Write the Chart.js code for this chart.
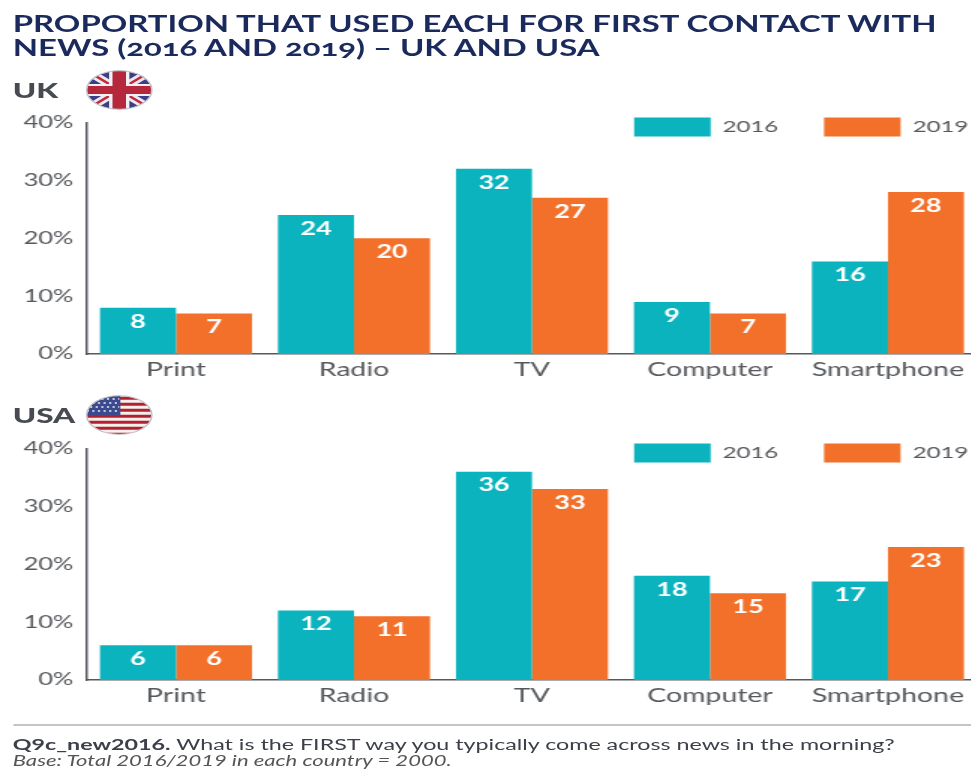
<!DOCTYPE html>
<html>
<head>
<meta charset="utf-8">
<title>First contact with news</title>
<script src="https://cdn.jsdelivr.net/npm/chart.js@4/dist/chart.umd.min.js"></script>
<style>
  html, body { margin: 0; padding: 0; background: #fff; overflow: hidden; width: 971px; height: 769px; }
  /* the reference is a picture stretched sideways, so the whole page is drawn narrow and scaled */
  #stage { position: absolute; left: 0; top: 0; width: 660px; height: 769px; transform: scaleX(1.5); transform-origin: 0 0; font-family: Lato, sans-serif; }
  #stage > * { position: absolute; }
  h1 { margin: 0; left: 8.5px; top: 11.5px; width: 640px; font-size: 21.9px; line-height: 24px; font-weight: 700; color: #1b2a5c; font-variant-numeric: oldstyle-nums; white-space: nowrap; }
  .country { left: 8.5px; font-size: 21px; line-height: 24px; font-weight: 900; color: #474a50; }
  #hr { left: 8.5px; top: 724px; width: 660px; height: 2px; background: #c4c6c6; }
  #note { left: 8.5px; top: 736px; font-size: 15.5px; line-height: 16px; color: #3c4048; white-space: nowrap; }
  #note i { color: #555; font-size: 14.7px; }
  canvas { position: absolute; left: 0; clip-path: inset(0 12px 0 0); }
</style>
</head>
<body>
<div id="stage">
  <h1>PROPORTION THAT USED EACH FOR FIRST CONTACT WITH<br>NEWS (2016 AND 2019) – UK AND USA</h1>

  <div class="country" style="top:78px">UK</div>
  <svg style="left:56.7px;top:70px" width="45" height="40" viewBox="0 0 60 60" preserveAspectRatio="none">
    <defs><clipPath id="ukClip"><circle cx="30" cy="30" r="29"/></clipPath></defs>
    <g clip-path="url(#ukClip)">
      <rect width="60" height="60" fill="#3b3f87"/>
      <path d="M0 0L60 60M60 0L0 60" stroke="#ece9ee" stroke-width="10"/>
      <path d="M0 0L60 60M60 0L0 60" stroke="#c2283c" stroke-width="3"/>
      <path d="M30 0V60M0 30H60" stroke="#f2f0f2" stroke-width="18"/>
      <path d="M30 0V60M0 30H60" stroke="#b5273a" stroke-width="12"/>
    </g>
    <circle cx="30" cy="30" r="29" fill="none" stroke="#c4c4ca" stroke-width="1.5"/>
  </svg>
  <canvas id="ukChart"></canvas>

  <div class="country" style="top:403px">USA</div>
  <svg style="left:56.7px;top:395px" width="45" height="40" viewBox="0 0 60 60" preserveAspectRatio="none">
    <defs><clipPath id="usClip"><circle cx="30" cy="30" r="29"/></clipPath></defs>
    <g clip-path="url(#usClip)">
      <rect width="60" height="60" fill="#f4f0ee"/>
      <path d="M0 5H60M0 14H60M0 23H60M0 32H60M0 41H60M0 50H60M0 59H60" stroke="#b5202f" stroke-width="4.5"/>
      <rect width="31" height="30" fill="#3b4a8f"/>
      <path d="M4 6H30M1 12H30M4 18H30M1 24H30" stroke="#e6e8f2" stroke-width="2" stroke-dasharray="2 3"/>
    </g>
    <circle cx="30" cy="30" r="29" fill="none" stroke="#c4c4ca" stroke-width="1.5"/>
  </svg>
  <canvas id="usaChart"></canvas>

  <div id="hr"></div>
  <div id="note"><b>Q9c_new2016.</b> What is the FIRST way you typically come across news in the morning?<br><i>Base: Total 2016/2019 in each country = 2000.</i></div>
</div>

<script>
const categories = ['Print', 'Radio', 'TV', 'Computer', 'Smartphone'];
const yearLabels = ['2016', '2019'];
const ukValues2016 = [8, 24, 32, 9, 16];
const ukValues2019 = [7, 20, 27, 7, 28];
const usaValues2016 = [6, 12, 36, 18, 17];
const usaValues2019 = [6, 11, 33, 15, 23];
const yTicks = [0, 10, 20, 30, 40];

const colorTeal = '#0ab3bd';
const colorOrange = '#f3702a';
const colorText = '#55585c';
const colorAxis = '#55585c';

// white number inside the top of each bar
const barNumbers = {
    id: 'barNumbers',
    afterDatasetsDraw(chart) {
        const ctx = chart.ctx;
        ctx.save();
        ctx.fillStyle = '#fff';
        ctx.font = '700 18px Lato';
        ctx.textAlign = 'center';
        ctx.textBaseline = 'middle';
        chart.data.datasets.forEach((ds, i) => {
            chart.getDatasetMeta(i).data.forEach((bar, j) => {
                ctx.fillText(ds.data[j], bar.x, bar.y + 14);
            });
        });
        ctx.restore();
    }
};

// legend sits a little above the plot, at the top right
const legendPlace = {
    id: 'legendPlace',
    afterLayout(chart) {
        const legend = chart.legend;
        const h = legend.height;
        legend.top = 24;
        legend.bottom = 24 + h;
        legend.right = 676;
    }
};

function makeChart(id, top, values2016, values2019) {
    const canvas = document.getElementById(id);
    canvas.style.top = top + 'px';
    new Chart(canvas.getContext('2d'), {
        type: 'bar',
        data: {
            labels: categories,
            datasets: [
                { label: yearLabels[0], data: values2016, backgroundColor: colorTeal },
                { label: yearLabels[1], data: values2019, backgroundColor: colorOrange }
            ]
        },
        options: {
            responsive: false,
            animation: false,
            devicePixelRatio: 1,
            events: [],
            barPercentage: 1,
            categoryPercentage: 0.854,
            layout: { padding: { top: 0, right: 8.7, left: 0, bottom: 0 } },
            scales: {
                x: {
                    afterFit(scale) { scale.height = 36; },
                    grid: { display: false, tickLength: 0 },
                    border: { color: colorAxis, width: 1.5 },
                    ticks: { color: colorText, font: { family: 'Lato', size: 19 }, padding: 4, maxRotation: 0, autoSkip: false }
                },
                y: {
                    min: 0,
                    max: 40,
                    afterFit(scale) { scale.width = 58; },
                    afterBuildTicks(scale) { scale.ticks = yTicks.map(v => ({ value: v })); },
                    grid: { display: false, tickLength: 0 },
                    border: { color: colorAxis, width: 1.5 },
                    ticks: { color: colorText, font: { family: 'Lato', size: 17 }, padding: 9, callback: v => v + '%' }
                }
            },
            plugins: {
                tooltip: { enabled: false },
                legend: {
                    position: 'top',
                    align: 'end',
                    labels: { boxWidth: 51, boxHeight: 19, padding: 30.5, color: colorText, font: { family: 'Lato', size: 16 } }
                }
            }
        },
        plugins: [barNumbers, legendPlace]
    });
}

const canvases = document.querySelectorAll('canvas');
canvases.forEach(c => { c.width = 660; c.height = 327; });
makeChart('ukChart', 63, ukValues2016, ukValues2019);
makeChart('usaChart', 389, usaValues2016, usaValues2019);
</script>
</body>
</html>
